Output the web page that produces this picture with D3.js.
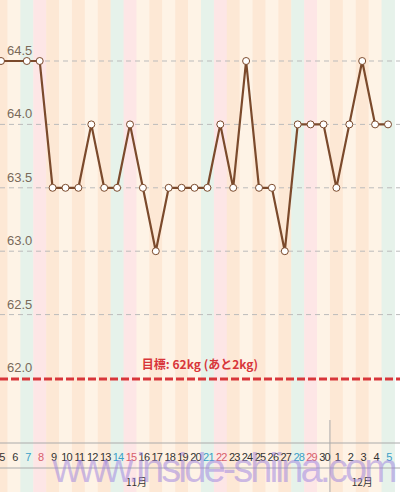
<!DOCTYPE html>
<html><head><meta charset="utf-8">
<script src="https://cdn.jsdelivr.net/npm/d3@7"></script>
<style>body{margin:0;background:#fff}</style>
</head><body><div id="chart"></div>
<script>
const days = [5,6,7,8,9,10,11,12,13,14,15,16,17,18,19,20,21,22,23,24,25,26,27,28,29,30,1,2,3,4,5];
const dayKind = ["w","w","sat","sun","w","w","w","w","w","sat","sun","w","w","w","w","w","sat","sun","w","w","w","w","w","sat","sun","w","w","w","w","w","sat"];
const weights = [64.5,null,64.5,64.5,63.5,63.5,63.5,64.0,63.5,63.5,64.0,63.5,63.0,63.5,63.5,63.5,63.5,64.0,63.5,64.5,63.5,63.5,63.0,64.0,64.0,64.0,63.5,64.0,64.5,64.0,64.0];
const yTicks = [62.0,62.5,63.0,63.5,64.0,64.5];
const target = 62.0;
const months = [{label:"11月", idx:10.5},{label:"12月", idx:28}];

const width = 400, height = 492;
const svg = d3.select("#chart").append("svg").attr("width", width).attr("height", height)
  .style("font-family", "'Liberation Sans', 'Noto Sans CJK JP', sans-serif");

const x = d3.scaleLinear().domain([0, 30]).range([1, 388]);
const y = d3.scaleLinear().domain([62, 64.5]).range([378, 61]);
const colW = x(1) - x(0);

// background stripes
svg.selectAll("rect.col").data(days).enter().append("rect")
  .attr("x", (d, i) => x(i) - colW / 2).attr("y", 0)
  .attr("width", colW + 0.5).attr("height", height)
  .attr("fill", (d, i) => dayKind[i] === "sat" ? "#e6f2ea" : dayKind[i] === "sun" ? "#fde6e6" : (i % 2 === 0 ? "#fde8d5" : "#fef3e6"));

// grid
svg.selectAll("line.grid").data(yTicks.filter(t => t > 62)).enter().append("line")
  .attr("x1", 0).attr("x2", width).attr("y1", d => y(d)).attr("y2", d => y(d))
  .attr("stroke", "#bbb").attr("stroke-dasharray", "5,4");
svg.selectAll("text.ytick").data(yTicks).enter().append("text")
  .attr("x", 7).attr("y", d => y(d) - 6).attr("font-size", 13).attr("fill", "#7a6a5a")
  .text(d => d.toFixed(1));

// target line
svg.append("line").attr("x1", 0).attr("x2", width).attr("y1", y(target) + 1).attr("y2", y(target) + 1)
  .attr("stroke", "#d8363a").attr("stroke-width", 3).attr("stroke-dasharray", "8,3");
svg.append("text").attr("x", 200).attr("y", y(target) - 9).attr("text-anchor", "middle")
  .attr("font-size", 12).attr("font-weight", "bold").attr("fill", "#d8363a")
  .attr("font-family", "'Noto Sans CJK JP', sans-serif")
  .text("目標: 62kg (あと2kg)");

// axis area
svg.append("line").attr("x1", 0).attr("x2", width).attr("y1", 443).attr("y2", 443).attr("stroke", "#aaa");
svg.append("line").attr("x1", 0).attr("x2", width).attr("y1", 468).attr("y2", 468).attr("stroke", "#aaa");
svg.append("line").attr("x1", x(25.5)).attr("x2", x(25.5)).attr("y1", 420).attr("y2", height).attr("stroke", "#aaa");
svg.selectAll("text.day").data(days).enter().append("text")
  .attr("x", (d, i) => x(i) + 1).attr("y", 461).attr("text-anchor", "middle")
  .attr("font-size", 11).attr("letter-spacing", "-0.8")
  .attr("fill", (d, i) => dayKind[i] === "sat" ? "#3aa0c8" : dayKind[i] === "sun" ? "#d8606a" : "#333")
  .text(d => d);
svg.selectAll("text.month").data(months).enter().append("text")
  .attr("x", d => x(d.idx)).attr("y", 486).attr("text-anchor", "middle")
  .attr("font-size", 10).attr("fill", "#333")
  .attr("font-family", "'Noto Sans CJK JP', sans-serif").text(d => d.label);

// line + points
const pts = weights.map((w, i) => ({i, w})).filter(d => d.w !== null);
svg.append("path").datum(pts)
  .attr("d", d3.line().x(d => x(d.i)).y(d => y(d.w)))
  .attr("fill", "none").attr("stroke", "#7b4a2c").attr("stroke-width", 2.2);
svg.selectAll("circle").data(pts).enter().append("circle")
  .attr("cx", d => x(d.i)).attr("cy", d => y(d.w)).attr("r", 3.5)
  .attr("fill", "#fff").attr("stroke", "#7b4a2c").attr("stroke-width", 1);

// watermark
svg.append("text").attr("x", 225).attr("y", 482).attr("text-anchor", "middle")
  .attr("font-size", 40).attr("font-family", "'Liberation Sans', sans-serif")
  .attr("fill", "#9a80e0").attr("fill-opacity", 0.5).attr("textLength", 345)
  .text("www.inside-shiina.com");
</script></body></html>
